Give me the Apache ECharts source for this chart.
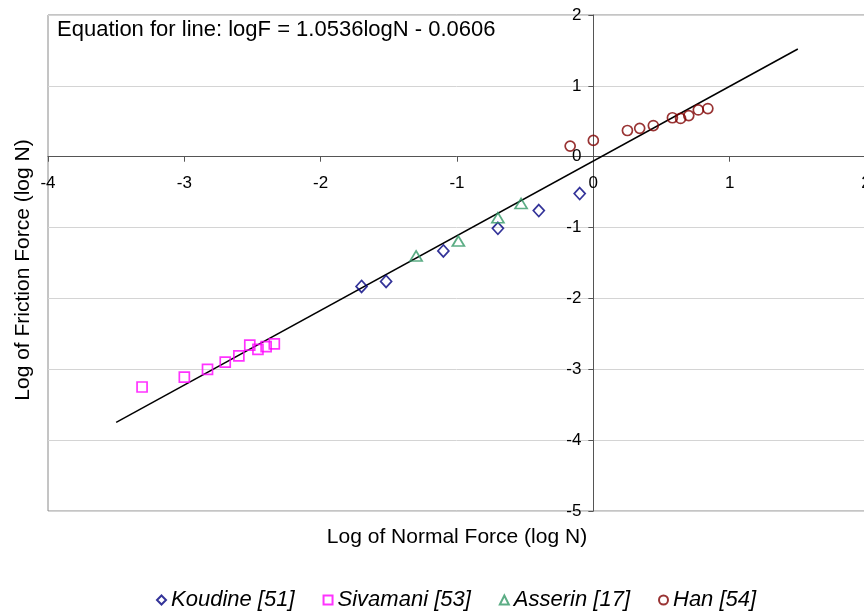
<!DOCTYPE html>
<html>
<head>
<meta charset="utf-8">
<script src="https://cdn.jsdelivr.net/npm/echarts@6/dist/echarts.min.js"></script>
<style>
  html, body { margin: 0; padding: 0; background: #fff; }
  #chart { width: 864px; height: 613px; }
</style>
</head>
<body>
<div id="chart"></div>
<script>
// log N, log F pairs
var koudine = [[-1.70, -1.83], [-1.52, -1.76], [-1.10, -1.33], [-0.70, -1.01], [-0.40, -0.76], [-0.10, -0.52]];
var sivamani = [[-3.31, -3.25], [-3.00, -3.11], [-2.83, -3.00], [-2.70, -2.90], [-2.60, -2.81],
                [-2.52, -2.66], [-2.46, -2.72], [-2.40, -2.68], [-2.34, -2.64]];
var asserin = [[-1.30, -1.40], [-0.99, -1.19], [-0.70, -0.86], [-0.53, -0.66]];
var han = [[-0.17, 0.15], [0.00, 0.23], [0.25, 0.37], [0.34, 0.40], [0.44, 0.44],
           [0.58, 0.55], [0.64, 0.54], [0.70, 0.58], [0.77, 0.66], [0.84, 0.68]];
var fitLine = [[-3.5, -3.75], [1.5, 1.52]];
var seriesNames = ['Koudine [51]', 'Sivamani [53]', 'Asserin [17]', 'Han [54]'];
var equationText = 'Equation for line: logF = 1.0536logN - 0.0606';

var font = 'Liberation Sans, Arial, sans-serif';
var chart = echarts.init(document.getElementById('chart'));

// plot box in pixels, axes cross at 0,0 (right edge runs off the page like the original)
var gLeft = 48, gTop = 15, gWidth = 818, gHeight = 496;
var xMin = -4, xMax = 2, yMin = -5, yMax = 2;
var xAxisShift = -gHeight * (0 - yMin) / (yMax - yMin);
var yAxisShift = -gWidth * (0 - xMin) / (xMax - xMin);

function pts(name, data, symbol, size, color) {
    return {
        name: name,
        type: 'scatter',
        data: data,
        symbol: symbol,
        symbolSize: size,
        itemStyle: { color: 'rgba(0,0,0,0)', borderColor: color, borderWidth: 1.7 },
        z: 3
    };
}

var option = {
    animation: false,
    textStyle: { fontFamily: font },
    grid: {
        left: gLeft, top: gTop, width: gWidth, height: gHeight,
        outerBoundsMode: 'none', containLabel: false,
        show: true, borderColor: '#8a8a8a', borderWidth: 1
    },
    xAxis: {
        type: 'value', min: xMin, max: xMax, interval: 1,
        position: 'bottom', offset: xAxisShift,
        axisLine: { onZero: false, lineStyle: { color: '#555', width: 1 } },
        axisTick: { show: true, length: 5, lineStyle: { color: '#555' } },
        axisLabel: { color: '#000', fontSize: 17, margin: 18, showMinLabel: true, showMaxLabel: true },
        splitLine: { show: false }
    },
    yAxis: {
        type: 'value', min: yMin, max: yMax, interval: 1,
        position: 'left', offset: yAxisShift,
        axisLine: { onZero: false, lineStyle: { color: '#555', width: 1 } },
        axisTick: { show: true, length: 5, lineStyle: { color: '#555' } },
        axisLabel: { color: '#000', fontSize: 17, margin: 12, showMinLabel: true, showMaxLabel: true },
        splitLine: { show: true, lineStyle: { color: '#d4d4d4', width: 1 } }
    },
    legend: {
        data: seriesNames,
        left: 151, top: 584,
        itemWidth: 9, itemHeight: 9, itemGap: 28,
        textStyle: { fontSize: 22, fontStyle: 'italic', color: '#000', fontFamily: font }
    },
    graphic: [
        {
            type: 'text', left: 57, top: 19,
            style: { text: equationText, fontSize: 22, fill: '#000', fontFamily: font }
        },
        {
            type: 'text', x: 457, y: 537,
            style: { text: 'Log of Normal Force (log N)', fontSize: 21, fill: '#000', align: 'center', verticalAlign: 'middle', fontFamily: font }
        },
        {
            type: 'text', x: 23, y: 270, rotation: Math.PI / 2,
            style: { text: 'Log of Friction Force (log N)', fontSize: 21, fill: '#000', align: 'center', verticalAlign: 'middle', fontFamily: font }
        }
    ],
    series: [
        pts(seriesNames[0], koudine, 'diamond', [11, 12], '#000080'),
        pts(seriesNames[1], sivamani, 'rect', [10, 10], '#ff00ff'),
        pts(seriesNames[2], asserin, 'triangle', [12, 10], '#339966'),
        pts(seriesNames[3], han, 'circle', 10, '#800000'),
        {
            name: 'fit', type: 'line', data: fitLine,
            symbol: 'none', lineStyle: { color: '#000', width: 1.5 },
            z: 2, silent: true
        }
    ]
};
chart.setOption(option);
</script>
</body>
</html>
